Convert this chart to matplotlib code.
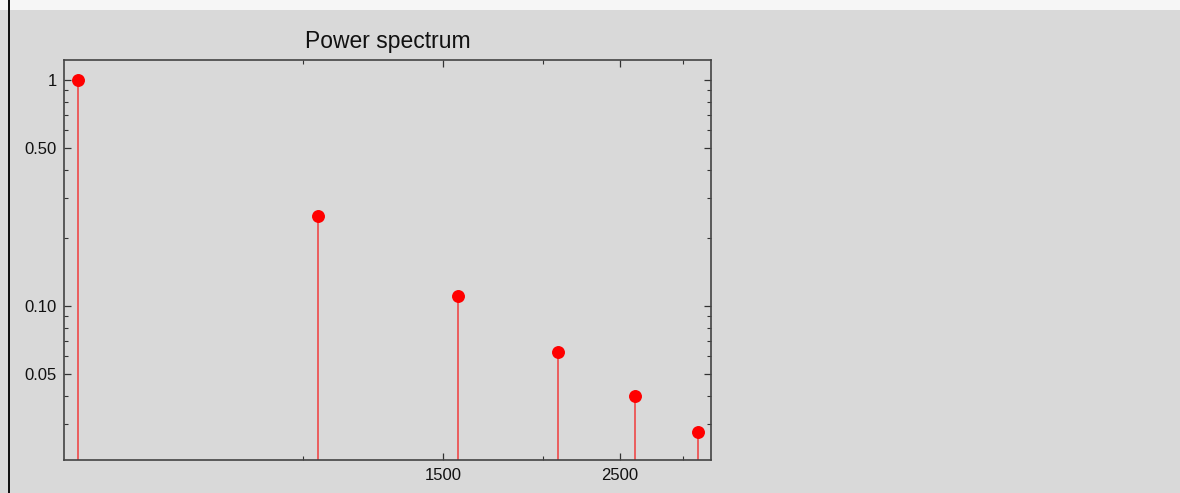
import matplotlib
matplotlib.use("Agg")
import matplotlib.pyplot as plt
from matplotlib.patches import Rectangle
from matplotlib.ticker import FixedLocator, NullFormatter, FixedFormatter

# Data: harmonics of a ~522 Hz tone, power ~ 1/n^2
frequencies = [522.2, 1044.4, 1566.6, 2088.8, 2611.0, 3133.2]
power = [1.0, 0.25, 0.111, 0.0625, 0.04, 0.0278]

x_major = [1500, 2500]
x_major_labels = ["1500", "2500"]
x_minor = [1000, 2000, 3000]
y_major = [1, 0.5, 0.1, 0.05]
y_major_labels = ["1", "0.50", "0.10", "0.05"]
y_minor = [0.9, 0.8, 0.7, 0.6, 0.4, 0.3, 0.2, 0.09, 0.08, 0.07, 0.06, 0.04, 0.03]

plt.rcParams['font.family'] = ['Liberation Sans', 'DejaVu Sans']

bg = '#d9d9d9'
fig = plt.figure(figsize=(11.8, 4.93), dpi=100, facecolor=bg)
# top light strip and left dark border
fig.add_artist(Rectangle((0, 1 - 10/493), 1, 10/493, transform=fig.transFigure,
                         facecolor='#f6f6f6', edgecolor='none', zorder=0))
fig.add_artist(Rectangle((8/1180, 0), 2.2/1180, 1, transform=fig.transFigure,
                         facecolor='#111111', edgecolor='none', zorder=0))

ax = fig.add_axes([64.3/1180, 1 - 460/493, (711 - 64.3)/1180, (460 - 60.3)/493])
ax.set_facecolor(bg)
ax.set_xscale('log')
ax.set_yscale('log')
ax.set_xlim(502, 3253)
ylo, yhi = 0.0208, 1.222
ax.set_ylim(ylo, yhi)

ax.vlines(frequencies, ylo, power, colors='#f03c3c', linewidth=1.1, zorder=2)
ax.plot(frequencies, power, 'o', color='#ff0000', markersize=8.3, zorder=3,
        clip_on=False)

ax.xaxis.set_major_locator(FixedLocator(x_major))
ax.xaxis.set_major_formatter(FixedFormatter(x_major_labels))
ax.xaxis.set_minor_locator(FixedLocator(x_minor))
ax.xaxis.set_minor_formatter(NullFormatter())
ax.yaxis.set_major_locator(FixedLocator(y_major))
ax.yaxis.set_major_formatter(FixedFormatter(y_major_labels))
ax.yaxis.set_minor_locator(FixedLocator(y_minor))
ax.yaxis.set_minor_formatter(NullFormatter())

ax.tick_params(which='both', direction='in', top=True, right=True,
               color='#333333', labelsize=12, labelcolor='#111111')
ax.tick_params(which='major', length=5, width=0.9, pad=5.5)
ax.tick_params(which='minor', length=3, width=0.8)
for s in ax.spines.values():
    s.set_color('#444444')
    s.set_linewidth(1.2)

ax.set_title('Power spectrum', fontsize=16.5, pad=9, color='#111111')

fig.savefig('out.png', dpi=100, facecolor=bg)
